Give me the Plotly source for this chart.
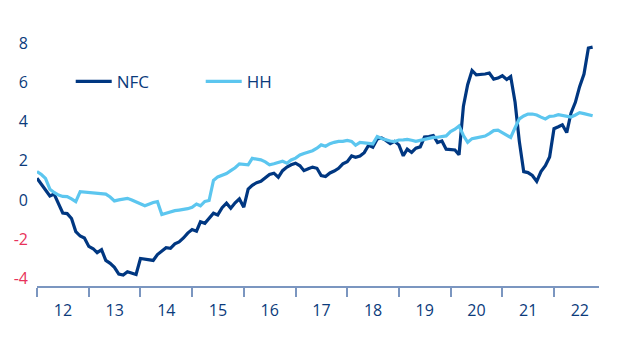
import pandas as pd
import plotly.graph_objects as go

# Monthly observations, Jan 2012 .. Oct 2022
start_month = "2012-01-01"
n_months = 130

nfc = [
    1.11, 0.81, 0.50, 0.20, 0.30, -0.23, -0.67, -0.70, -0.95, -1.62,
    -1.85, -1.95, -2.38, -2.50, -2.70, -2.55, -3.10, -3.25, -3.45, -3.80,
    -3.85, -3.68, -3.76, -3.82, -3.00, -3.03, -3.05, -3.10, -2.80, -2.62,
    -2.45, -2.48, -2.25, -2.15, -1.95, -1.70, -1.52, -1.60, -1.12, -1.20,
    -0.97, -0.68, -0.77, -0.40, -0.17, -0.43, -0.15, 0.05, -0.37, 0.55,
    0.75, 0.88, 0.95, 1.12, 1.30, 1.37, 1.16, 1.50, 1.68, 1.80,
    1.88, 1.75, 1.50, 1.60, 1.68, 1.62, 1.25, 1.20, 1.38, 1.48,
    1.62, 1.85, 1.96, 2.25, 2.18, 2.25, 2.42, 2.80, 2.70, 3.12,
    3.18, 3.05, 2.88, 3.00, 2.82, 2.26, 2.60, 2.43, 2.65, 2.72,
    3.22, 3.25, 3.30, 2.94, 3.02, 2.60, 2.56, 2.56, 2.31, 4.80,
    5.90, 6.63, 6.41, 6.41, 6.45, 6.50, 6.19, 6.24, 6.36, 6.17,
    6.32, 5.00, 3.00, 1.45, 1.40, 1.25, 0.95, 1.45, 1.75, 2.20,
    3.65, 3.75, 3.85, 3.45, 4.44, 5.00, 5.80, 6.45, 7.78, 7.83,
]

hh = [
    1.45, 1.30, 1.10, 0.55, 0.38, 0.25, 0.18, 0.17, 0.05, -0.09,
    0.42, 0.40, 0.39, 0.39, 0.38, 0.32, 0.30, 0.15, -0.05, 0.00,
    0.05, 0.08, 0.00, -0.10, -0.20, -0.30, -0.22, -0.13, -0.09, -0.75,
    -0.68, -0.60, -0.55, -0.52, -0.50, -0.45, -0.38, -0.21, -0.30, -0.08,
    -0.03, 1.00, 1.18, 1.25, 1.35, 1.50, 1.65, 1.85, 1.82, 1.80,
    2.13, 2.09, 2.05, 1.95, 1.80, 1.85, 1.90, 1.98, 1.88, 2.05,
    2.14, 2.30, 2.38, 2.43, 2.52, 2.65, 2.82, 2.75, 2.88, 2.95,
    3.00, 3.00, 3.05, 3.00, 2.80, 2.95, 2.94, 2.90, 2.87, 3.25,
    3.15, 3.08, 3.02, 2.99, 3.07, 3.08, 3.10, 3.06, 3.00, 3.05,
    3.11, 3.14, 3.20, 3.21, 3.25, 3.28, 3.50, 3.62, 3.79, 3.30,
    2.95, 3.14, 3.18, 3.23, 3.27, 3.40, 3.55, 3.58, 3.45, 3.28,
    3.20, 3.70, 4.15, 4.30, 4.40, 4.40, 4.35, 4.24, 4.15, 4.28,
    4.30, 4.37, 4.33, 4.30, 4.24, 4.35, 4.47, 4.42, 4.36, 4.31,
]

y_tick_values = [-4, -2, 0, 2, 4, 6, 8]
series_names = ["NFC", "HH"]

dates = pd.date_range(start_month, periods=n_months, freq="MS")

DARK = "#003781"
LIGHT = "#5cc6ef"
AXIS = "#7b96c0"
TEXT = "#0b3b7c"
NEG = "#e8325a"
FONT = "Open Sans"

fig = go.Figure()
fig.add_trace(go.Scatter(x=dates, y=nfc, mode="lines", name=series_names[0],
                         line=dict(color=DARK, width=3.2)))
fig.add_trace(go.Scatter(x=dates, y=hh, mode="lines", name=series_names[1],
                         line=dict(color=LIGHT, width=3.2)))

ticktext = [
    (f"<span style='color:{NEG}'>{v}</span>" if v < 0 else str(v))
    for v in y_tick_values
]

fig.update_layout(
    width=623, height=340,
    margin=dict(l=37, r=24, t=34, b=54),
    paper_bgcolor="white", plot_bgcolor="white",
    font=dict(family=FONT, color=TEXT, size=16, weight=500),
    showlegend=True,
    legend=dict(orientation="h", x=0.06, y=0.81, xanchor="left", yanchor="middle",
                font=dict(size=17, color=TEXT, weight=500), entrywidth=79,
                itemwidth=36,
                entrywidthmode="pixels", bgcolor="rgba(0,0,0,0)"),
    xaxis=dict(
        type="date",
        range=["2012-01-01", "2022-11-15"],
        tick0="2012-01-01", dtick="M12",
        tickformat="%y", ticklabelmode="period",
        showgrid=False, zeroline=False,
        showline=True, linecolor=AXIS, linewidth=2,
        ticks="outside", ticklen=9, tickwidth=2, tickcolor=AXIS,
        tickfont=dict(size=16, color=TEXT, weight=500),
    ),
    yaxis=dict(
        range=[-4.41, 8.5],
        tickvals=y_tick_values, ticktext=ticktext,
        showgrid=False, zeroline=False, showline=False,
        ticks="", ticklabelstandoff=8,
        tickfont=dict(size=16, color=TEXT, weight=500),
    ),
)

fig.write_html("out.html")
